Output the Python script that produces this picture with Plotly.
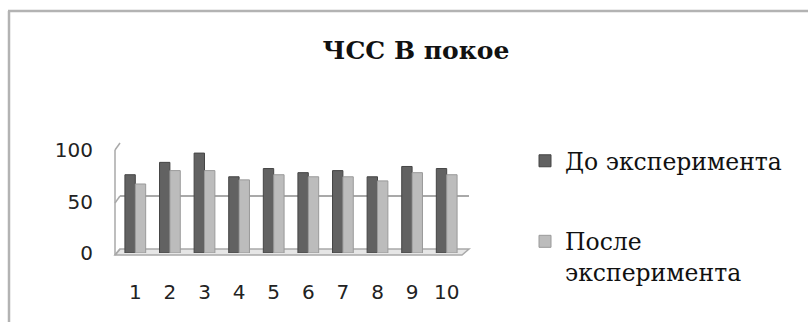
import plotly.graph_objects as go

# Resting heart rate (beats per minute) for ten subjects
subjects = ["1", "2", "3", "4", "5", "6", "7", "8", "9", "10"]
hr_before = [76, 88, 97, 74, 82, 78, 80, 74, 84, 82]
hr_after = [67, 80, 80, 71, 76, 74, 74, 70, 78, 76]
y_ticks = [0, 50, 100]

title_text = "ЧСС В покое"
name_before = "До эксперимента"
name_after = "После<br>эксперимента"

W, H = 808, 322


def px(x):
    return x / W


def py(y):
    return 1 - y / H


DARK = "#626262"
LIGHT = "#bcbcbc"
GRID = "#a9a9a9"
SERIF = "DejaVu Serif"
SANS = "DejaVu Sans"

fig = go.Figure()

# invisible anchor so the back-wall subplot gets drawn
fig.add_trace(go.Scatter(x=[0.5], y=[0], xaxis="x", yaxis="y", mode="markers",
                         marker=dict(opacity=0), showlegend=False, hoverinfo="skip"))

fig.add_trace(go.Bar(
    x=subjects, y=hr_before, name=name_before,
    xaxis="x2", yaxis="y2",
    marker=dict(color=DARK, line=dict(color="#454545", width=1)),
    legendgroup="a",
))
fig.add_trace(go.Bar(
    x=subjects, y=hr_after, name=name_after,
    xaxis="x2", yaxis="y2",
    marker=dict(color=LIGHT, line=dict(color="#9a9a9a", width=1)),
    legendgroup="b",
))

# Frame lines of the pseudo-3D box: left wall front edge, wall-to-front
# connectors, and the floor slab.
shapes = []
wall_left, wall_right = 120, 469
front_left, front_right = 115, 462
back_levels = [249, 196, 143]
front_levels = [255, 203, 150]
shapes.append(dict(type="path", xref="paper", yref="paper",
                   path=f"M{px(front_left)},{py(front_levels[0])} L{px(front_right)},{py(front_levels[0])} "
                        f"L{px(wall_right)},{py(back_levels[0])} L{px(wall_left)},{py(back_levels[0])} Z",
                   fillcolor="#e6e6e6", line=dict(color=GRID, width=1.5), layer="below"))
shapes.append(dict(type="line", xref="paper", yref="paper",
                   x0=px(front_left), x1=px(front_left),
                   y0=py(front_levels[0]), y1=py(front_levels[2]),
                   line=dict(color=GRID, width=1.5), layer="below"))
for fb, bb in zip(front_levels, back_levels):
    shapes.append(dict(type="line", xref="paper", yref="paper",
                       x0=px(front_left), x1=px(wall_left),
                       y0=py(fb), y1=py(bb),
                       line=dict(color=GRID, width=1.5), layer="below"))
# chart border (top and left edges)
shapes.append(dict(type="line", xref="paper", yref="paper",
                   x0=px(8), x1=1.0, y0=py(11), y1=py(11),
                   line=dict(color="#b3b3b3", width=2.5)))
shapes.append(dict(type="line", xref="paper", yref="paper",
                   x0=px(9), x1=px(9), y0=py(11), y1=0,
                   line=dict(color="#b3b3b3", width=2.5)))

fig.update_layout(
    template="none",
    width=W, height=H, autosize=False,
    margin=dict(l=0, r=0, t=0, b=0, pad=0),
    paper_bgcolor="white",
    plot_bgcolor="rgba(0,0,0,0)",
    barmode="group",
    bargap=0.4,
    bargroupgap=0.0,
    showlegend=True,
    shapes=shapes,
    title=dict(text=f"<b>{title_text}</b>", x=px(416), xanchor="center",
               y=py(50), yanchor="middle",
               font=dict(family=SERIF, size=25, color="#111111")),
    # back wall with its gridlines
    xaxis=dict(domain=[px(wall_left), px(wall_right)], range=[0, 1],
               showgrid=False, zeroline=False, showticklabels=False,
               showline=False, fixedrange=True, anchor="y", automargin=False),
    yaxis=dict(domain=[py(back_levels[0]), py(back_levels[2])], range=[0, 100],
               tickvals=y_ticks, showgrid=True, gridcolor=GRID, gridwidth=1.5,
               zeroline=False, showticklabels=False, showline=False, anchor="x",
               automargin=False),
    # front plane carrying the bars and the tick labels
    xaxis2=dict(domain=[px(118), px(464)], type="category",
                showgrid=False, zeroline=False, showline=False,
                ticks="", ticklabelstandoff=25, anchor="y2", automargin=False,
                tickfont=dict(family=SANS, size=20, color="#222222")),
    yaxis2=dict(domain=[py(253), py(150)], range=[0, 100],
                tickvals=y_ticks, showgrid=False, zeroline=False,
                showline=False, ticks="", ticklabelstandoff=24, anchor="x2",
                automargin=False,
                tickfont=dict(family=SANS, size=20, color="#222222")),
    legend=dict(x=px(525), y=py(139), xanchor="left", yanchor="top",
                traceorder="grouped", tracegroupgap=47, valign="top",
                font=dict(family=SERIF, size=23.5, color="#111111"),
                bgcolor="rgba(0,0,0,0)"),
)

fig.write_html("out.html")
